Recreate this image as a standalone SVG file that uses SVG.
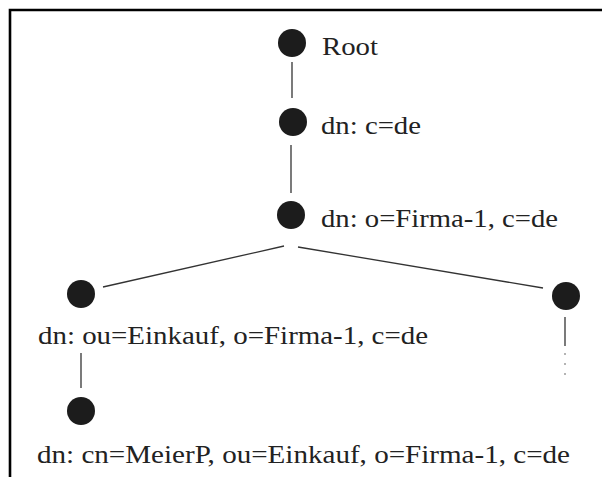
<svg xmlns="http://www.w3.org/2000/svg" width="602" height="477" viewBox="0 0 602 477">
<style>
.n{fill:#1c1c1c}
.t{font-family:"Liberation Serif","Times New Roman",serif;font-size:25px;fill:#222}
.e{stroke:#333;stroke-width:1.3;fill:none}
</style>
<rect width="602" height="477" fill="#fff"/>
<path d="M10 477 V10 H602" fill="none" stroke="#000" stroke-width="2.6"/>
<g id="connectors">
<line class="e" x1="292" y1="62" x2="292" y2="98"/>
<line class="e" x1="291" y1="145" x2="291" y2="193"/>
<line class="e" x1="284" y1="246" x2="103" y2="287"/>
<line class="e" x1="298" y1="247" x2="543" y2="288"/>
<line class="e" x1="81" y1="353" x2="81" y2="388"/>
<line class="e" x1="565" y1="317" x2="565" y2="346"/>
<g fill="#555"><circle cx="565" cy="354" r="0.8"/><circle cx="565" cy="364" r="0.8"/><circle cx="565" cy="374" r="0.8"/></g>
</g>
<g id="root"><circle class="n" cx="292" cy="43" r="14"/><text class="t" x="322" y="55" textLength="56" lengthAdjust="spacingAndGlyphs">Root</text></g>
<g id="c-de"><circle class="n" cx="293" cy="122" r="14"/><text class="t" x="321" y="134" textLength="100" lengthAdjust="spacingAndGlyphs">dn: c=de</text></g>
<g id="firma"><circle class="n" cx="291" cy="215" r="14"/><text class="t" x="321" y="227" textLength="237" lengthAdjust="spacingAndGlyphs">dn: o=Firma-1, c=de</text></g>
<g id="einkauf"><circle class="n" cx="81" cy="294" r="14"/><text class="t" x="38" y="344" textLength="390" lengthAdjust="spacingAndGlyphs">dn: ou=Einkauf, o=Firma-1, c=de</text></g>
<g id="other"><circle class="n" cx="566" cy="296" r="14"/></g>
<g id="meierp"><circle class="n" cx="81" cy="411" r="14"/><text class="t" x="37" y="463" textLength="533" lengthAdjust="spacingAndGlyphs">dn: cn=MeierP, ou=Einkauf, o=Firma-1, c=de</text></g>
</svg>
